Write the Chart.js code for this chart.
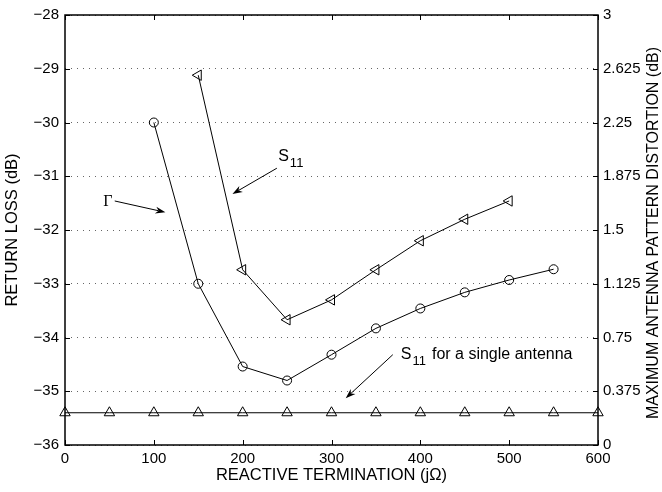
<!DOCTYPE html>
<html>
<head>
<meta charset="utf-8">
<script src="https://cdn.jsdelivr.net/npm/chart.js@4.4.0/dist/chart.umd.min.js"></script>
<style>
html, body { margin: 0; padding: 0; background: #fff; }
#wrap { width: 662px; height: 492px; }
</style>
</head>
<body>
<div id="wrap"><canvas id="chart" width="662" height="492"></canvas></div>
<script>
// Valores
const gammaX = [100, 150, 200, 250, 300, 350, 400, 450, 500, 550];
const gammaDb = [-30.0, -33.0, -34.54, -34.80, -34.32, -33.83, -33.46, -33.16, -32.93, -32.73];

const s11X = [150, 200, 250, 300, 350, 400, 450, 500];
const s11Db = [-29.12, -32.74, -33.67, -33.30, -32.74, -32.20, -31.80, -31.46];

const singleX = [0, 50, 100, 150, 200, 250, 300, 350, 400, 450, 500, 550, 600];
const singleDb = [-35.4, -35.4, -35.4, -35.4, -35.4, -35.4, -35.4, -35.4, -35.4, -35.4, -35.4, -35.4, -35.4];

const xTicks = [0, 100, 200, 300, 400, 500, 600];
const leftTicks = [-36, -35, -34, -33, -32, -31, -30, -29, -28];
const rightTicks = [0, 0.375, 0.75, 1.125, 1.5, 1.875, 2.25, 2.625, 3];
const rightTickLabels = ["0", "0.375", "0.75", "1.125", "1.5", "1.875", "2.25", "2.625", "3"];

const FONT = "'Liberation Sans', Arial, Helvetica, sans-serif";
const TITLE_SIZE = 16.5;

// Anotaciones (en unidades de datos): texto + flecha
const notes = [
    { main: "\u0393", sub: "", rest: "", serif: true, x: 43, y: -31.47, arrow: [56, -31.46, 113, -31.67] },
    { main: "S", sub: "11", rest: "", x: 240, y: -30.64, arrow: [238.5, -30.85, 188.5, -31.33] },
    { main: "S", sub: "11", rest: "for a single antenna", x: 378, y: -34.31, arrow: [369, -34.32, 316, -35.13] }
];

function points(xs, ys) {
    return xs.map((x, i) => ({ x: x, y: ys[i] }));
}

// Marco, marcas hacia adentro, título derecho y anotaciones
const framePlugin = {
    id: "frame",
    afterDraw(chart) {
        const ctx = chart.ctx;
        const a = chart.chartArea;
        const sx = chart.scales.x, sy = chart.scales.y;
        ctx.save();
        ctx.strokeStyle = "#000";
        ctx.lineWidth = 1.5;
        ctx.strokeRect(a.left, a.top, a.right - a.left, a.bottom - a.top);

        ctx.lineWidth = 1;
        const len = 5;
        xTicks.forEach(v => {
            const px = Math.round(sx.getPixelForValue(v)) + 0.5;
            ctx.beginPath();
            ctx.moveTo(px, a.top); ctx.lineTo(px, a.top + len);
            ctx.moveTo(px, a.bottom); ctx.lineTo(px, a.bottom - len);
            ctx.stroke();
        });
        leftTicks.forEach(v => {
            const py = Math.round(sy.getPixelForValue(v)) + 0.5;
            ctx.beginPath();
            ctx.moveTo(a.left, py); ctx.lineTo(a.left + len, py);
            ctx.moveTo(a.right, py); ctx.lineTo(a.right - len, py);
            ctx.stroke();
        });

        // título del eje derecho, leído de abajo hacia arriba
        ctx.fillStyle = "#000";
        ctx.font = "16px " + FONT;
        ctx.textAlign = "center";
        ctx.textBaseline = "middle";
        ctx.translate(654, (a.top + a.bottom) / 2 + 3);
        ctx.rotate(-Math.PI / 2);
        ctx.fillText("MAXIMUM ANTENNA PATTERN DISTORTION (dB)", 0, 0);
        ctx.restore();

        // anotaciones
        ctx.save();
        ctx.fillStyle = "#000";
        ctx.strokeStyle = "#000";
        ctx.lineWidth = 1;
        ctx.textBaseline = "middle";
        ctx.textAlign = "left";
        notes.forEach(n => {
            let px = sx.getPixelForValue(n.x);
            const py = sy.getPixelForValue(n.y);
            ctx.font = "16px " + (n.serif ? "'Liberation Serif', serif" : FONT);
            ctx.fillText(n.main, px, py);
            px += ctx.measureText(n.main).width + 1;
            if (n.sub) {
                ctx.font = "13px " + FONT;
                ctx.fillText(n.sub, px, py + 7);
                px += ctx.measureText(n.sub).width + 6;
            }
            if (n.rest) {
                ctx.font = "16px " + FONT;
                ctx.fillText(n.rest, px, py);
            }
            const x1 = sx.getPixelForValue(n.arrow[0]), y1 = sy.getPixelForValue(n.arrow[1]);
            const x2 = sx.getPixelForValue(n.arrow[2]), y2 = sy.getPixelForValue(n.arrow[3]);
            const ang = Math.atan2(y2 - y1, x2 - x1);
            const hl = 10, hw = 3.5;
            ctx.beginPath();
            ctx.moveTo(x1, y1);
            ctx.lineTo(x2 - hl * Math.cos(ang) * 0.7, y2 - hl * Math.sin(ang) * 0.7);
            ctx.stroke();
            ctx.beginPath();
            ctx.moveTo(x2, y2);
            ctx.lineTo(x2 - hl * Math.cos(ang) - hw * Math.sin(ang), y2 - hl * Math.sin(ang) + hw * Math.cos(ang));
            ctx.lineTo(x2 - hl * 0.7 * Math.cos(ang), y2 - hl * 0.7 * Math.sin(ang));
            ctx.lineTo(x2 - hl * Math.cos(ang) + hw * Math.sin(ang), y2 - hl * Math.sin(ang) - hw * Math.cos(ang));
            ctx.closePath();
            ctx.fill();
        });
        ctx.restore();
    }
};

const baseLine = {
    borderColor: "#000",
    borderWidth: 1,
    pointBorderColor: "#000",
    pointBackgroundColor: "rgba(0,0,0,0)",
    pointBorderWidth: 1,
    tension: 0,
    fill: false,
    clip: false
};

new Chart(document.getElementById("chart"), {
    type: "line",
    data: {
        datasets: [
            Object.assign({ label: "\u0393", data: points(gammaX, gammaDb), pointStyle: "circle", pointRadius: 4.5 }, baseLine),
            Object.assign({ label: "S11", data: points(s11X, s11Db), pointStyle: "triangle", pointRotation: -90, pointRadius: 6 }, baseLine),
            Object.assign({ label: "S11 single", data: points(singleX, singleDb), pointStyle: "triangle", pointRadius: 6 }, baseLine)
        ]
    },
    options: {
        responsive: false,
        animation: false,
        devicePixelRatio: 1,
        layout: { padding: { top: 8, left: 0, right: 0, bottom: 0 } },
        plugins: { legend: { display: false }, tooltip: { enabled: false } },
        scales: {
            x: {
                type: "linear",
                min: 0, max: 600,
                afterBuildTicks: s => { s.ticks = xTicks.map(v => ({ value: v })); },
                afterFit: s => { s.height = 47; },
                grid: { display: false, drawTicks: false },
                border: { display: false },
                ticks: { color: "#000", font: { family: FONT, size: 15 }, padding: 5, autoSkip: false, maxRotation: 0 },
                title: { display: true, text: "REACTIVE TERMINATION (j\u03A9)", color: "#000", font: { family: FONT, size: TITLE_SIZE }, padding: { top: 0, bottom: 7 } }
            },
            y: {
                position: "left",
                min: -36, max: -28,
                afterBuildTicks: s => { s.ticks = leftTicks.map(v => ({ value: v })); },
                afterFit: s => { s.width = 65; },
                grid: { color: "#666", lineWidth: 1, drawTicks: false },
                border: { display: false, dash: [1, 5] },
                ticks: {
                    color: "#000", font: { family: FONT, size: 15 }, padding: 6,
                    callback: v => String(v).replace("-", "\u2212")
                },
                title: { display: true, text: "RETURN LOSS (dB)", color: "#000", font: { family: FONT, size: TITLE_SIZE }, padding: { top: 3, bottom: 0 } }
            },
            y2: {
                position: "right",
                display: true,
                min: 0, max: 3,
                afterBuildTicks: s => { s.ticks = rightTicks.map(v => ({ value: v })); },
                afterFit: s => { s.width = 64; },
                grid: { display: false, drawTicks: false },
                border: { display: false },
                ticks: {
                    color: "#000", font: { family: FONT, size: 15 }, padding: 5,
                    callback: (v, i) => rightTickLabels[i]
                }
            }
        }
    },
    plugins: [framePlugin]
});
</script>
</body>
</html>
